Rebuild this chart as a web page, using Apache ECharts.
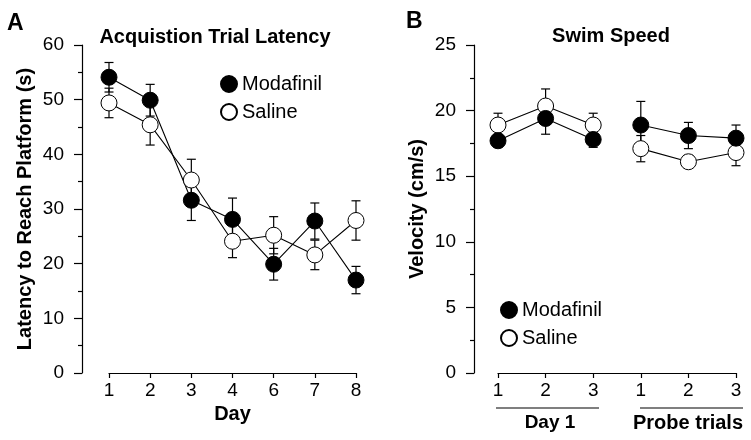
<!DOCTYPE html>
<html>
<head>
<meta charset="utf-8">
<script src="https://cdn.jsdelivr.net/npm/echarts@6/dist/echarts.min.js"></script>
<style>
  html, body { margin: 0; padding: 0; background: #fff; }
  #chart { width: 751px; height: 440px; }
</style>
</head>
<body>
<div id="chart"></div>
<script>
// panel A: acquisition latency (s)
var dayLabels = ['1', '2', '3', '4', '6', '7', '8'];
var modLatency = [54.1, 49.9, 31.6, 28.1, 19.9, 27.8, 17.0];
var modLatencySE = [2.7, 2.9, 3.7, 3.9, 2.9, 3.3, 2.5];
var salLatency = [49.4, 45.4, 35.3, 24.1, 25.2, 21.6, 27.9];
var salLatencySE = [2.7, 3.7, 3.8, 3.0, 3.4, 2.7, 3.6];

// panel B: swim speed (cm/s), 3 day-1 trials then 3 probe trials
var trialLabels = ['1', '2', '3', '1', '2', '3'];
var modSpeed = [17.7, 19.4, 17.8, 18.9, 18.1, 17.9];
var modSpeedSE = [0.5, 1.2, 0.6, 1.8, 1.0, 1.0];
var salSpeed = [18.9, 20.35, 18.9, 17.1, 16.1, 16.8];
var salSpeedSE = [0.9, 1.3, 0.9, 1.0, 0.5, 1.0];

var FONT = 'Liberation Sans, Arial, Helvetica, sans-serif';

var chart = echarts.init(document.getElementById('chart'));

function pts(vals, from, to) {
    var arr = [];
    for (var i = from; i < to; i++) arr.push([i, vals[i]]);
    return arr;
}
function errPts(vals, se) {
    var arr = [];
    for (var i = 0; i < vals.length; i++) arr.push([i, vals[i], se[i]]);
    return arr;
}
// error bars with caps
function renderErr(params, api) {
    var x = api.value(0), y = api.value(1), e = api.value(2);
    var hi = api.coord([x, y + e]);
    var lo = api.coord([x, y - e]);
    var w = 4.5;
    var st = { stroke: '#000', lineWidth: 1.2 };
    return {
        type: 'group',
        children: [
            { type: 'line', shape: { x1: hi[0], y1: hi[1], x2: lo[0], y2: lo[1] }, style: st },
            { type: 'line', shape: { x1: hi[0] - w, y1: hi[1], x2: hi[0] + w, y2: hi[1] }, style: st },
            { type: 'line', shape: { x1: lo[0] - w, y1: lo[1], x2: lo[0] + w, y2: lo[1] }, style: st }
        ]
    };
}
function errSeries(idx, vals, se) {
    return {
        type: 'custom', xAxisIndex: idx, yAxisIndex: idx, z: 2,
        renderItem: renderErr, data: errPts(vals, se), silent: true
    };
}
function lineSeries(name, idx, data, filled, size) {
    return {
        name: name, type: 'line', xAxisIndex: idx, yAxisIndex: idx, z: 3,
        data: data, symbol: 'circle', symbolSize: size,
        lineStyle: { color: '#000', width: 1.1 },
        itemStyle: { color: filled ? '#000' : '#fff', borderColor: '#000', borderWidth: 1 },
        emphasis: { disabled: true }
    };
}

var yAxisBase = {
    type: 'value',
    axisLine: { show: true, onZero: false, lineStyle: { color: '#000', width: 1.2 } },
    axisTick: { show: true, length: 8, lineStyle: { color: '#000', width: 1.2 } },
    minorTick: { show: true, splitNumber: 2, length: 4, lineStyle: { color: '#000', width: 1.2 } },
    splitLine: { show: false },
    axisLabel: { color: '#000', fontSize: 19, fontFamily: FONT, margin: 18 },
    nameLocation: 'middle',
    nameGap: 47,
    nameTextStyle: { color: '#000', fontSize: 20, fontWeight: 'bold', fontFamily: FONT }
};
var xAxisBase = {
    type: 'value',
    interval: 1,
    axisLine: { show: true, onZero: false, lineStyle: { color: '#000', width: 1.2 } },
    axisTick: { show: true, length: 5, lineStyle: { color: '#000', width: 1.2 } },
    splitLine: { show: false },
    nameLocation: 'middle',
    nameTextStyle: { color: '#000', fontSize: 20, fontWeight: 'bold', fontFamily: FONT }
};

var option = {
    animation: false,
    grid: [
        { left: 109, right: 395, top: 45, bottom: 67 },
        { left: 498, right: 15, top: 45, bottom: 67 }
    ],
    xAxis: [
        Object.assign({}, xAxisBase, {
            gridIndex: 0, min: 0, max: 6, name: 'Day', nameGap: 28,
            axisLabel: { color: '#000', fontSize: 19, fontFamily: FONT, margin: 8,
                formatter: function (v) { return dayLabels[v]; } }
        }),
        Object.assign({}, xAxisBase, {
            gridIndex: 1, min: 0, max: 5,
            axisLabel: { color: '#000', fontSize: 19, fontFamily: FONT, margin: 8,
                formatter: function (v) { return trialLabels[v]; } }
        })
    ],
    yAxis: [
        Object.assign({}, yAxisBase, {
            gridIndex: 0, min: 0, max: 60, interval: 10, offset: 27,
            name: 'Latency to Reach Platform (s)'
        }),
        Object.assign({}, yAxisBase, {
            gridIndex: 1, min: 0, max: 25, interval: 5, offset: 24,
            name: 'Velocity (cm/s)'
        })
    ],
    legend: [
        {
            left: 220, top: 74, padding: 0, orient: 'vertical', itemGap: 8, icon: 'circle',
            itemWidth: 16, itemHeight: 16, selectedMode: false,
            data: ['Modafinil', 'Saline'],
            textStyle: { color: '#000', fontSize: 20, fontFamily: FONT }
        },
        {
            left: 500, top: 300, padding: 0, orient: 'vertical', itemGap: 8, icon: 'circle',
            itemWidth: 16, itemHeight: 16, selectedMode: false,
            data: ['Modafinil', 'Saline'],
            textStyle: { color: '#000', fontSize: 20, fontFamily: FONT }
        }
    ],
    graphic: [
        { type: 'text', left: 7, top: 12, style: { text: 'A', font: 'bold 23px ' + FONT, fill: '#000' } },
        { type: 'text', left: 406, top: 10, style: { text: 'B', font: 'bold 23px ' + FONT, fill: '#000' } },
        { type: 'text', x: 215, y: 37, style: { text: 'Acquistion Trial Latency', font: 'bold 20px ' + FONT,
            fill: '#000', textAlign: 'center', textVerticalAlign: 'middle' } },
        { type: 'text', x: 611, y: 36, style: { text: 'Swim Speed', font: 'bold 20px ' + FONT,
            fill: '#000', textAlign: 'center', textVerticalAlign: 'middle' } },
        { type: 'line', shape: { x1: 496, y1: 408, x2: 599, y2: 408 }, style: { stroke: '#000', lineWidth: 1.2 } },
        { type: 'line', shape: { x1: 640, y1: 408, x2: 743, y2: 408 }, style: { stroke: '#000', lineWidth: 1.2 } },
        { type: 'text', x: 550, y: 423, style: { text: 'Day 1', font: 'bold 19px ' + FONT,
            fill: '#000', textAlign: 'center', textVerticalAlign: 'middle' } },
        { type: 'text', x: 688, y: 423, style: { text: 'Probe trials', font: 'bold 20px ' + FONT,
            fill: '#000', textAlign: 'center', textVerticalAlign: 'middle' } }
    ],
    series: [
        errSeries(0, modLatency, modLatencySE),
        errSeries(0, salLatency, salLatencySE),
        lineSeries('Saline', 0, pts(salLatency, 0, 7), false, 16),
        lineSeries('Modafinil', 0, pts(modLatency, 0, 7), true, 16),

        errSeries(1, modSpeed, modSpeedSE),
        errSeries(1, salSpeed, salSpeedSE),
        lineSeries('Saline', 1, pts(salSpeed, 0, 3), false, 16),
        lineSeries('Saline', 1, pts(salSpeed, 3, 6), false, 16),
        lineSeries('Modafinil', 1, pts(modSpeed, 0, 3), true, 16),
        lineSeries('Modafinil', 1, pts(modSpeed, 3, 6), true, 16)
    ]
};
chart.setOption(option);
</script>
</body>
</html>
